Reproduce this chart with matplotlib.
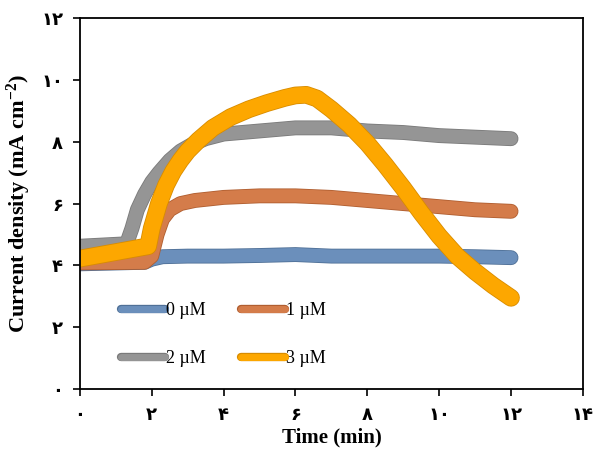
import matplotlib.pyplot as plt
import matplotlib.patheffects as pe
from matplotlib.lines import Line2D

# Data
time0 = [0, 1.8, 2.0, 2.3, 3, 4, 5, 6, 7, 8, 9, 10, 11, 12]
cd0 = [4.05, 4.1, 4.2, 4.28, 4.3, 4.3, 4.32, 4.35, 4.3, 4.3, 4.3, 4.3, 4.28, 4.25]

time1 = [0, 1.8, 2.0, 2.15, 2.3, 2.5, 2.8, 3.2, 4, 5, 6, 7, 8, 9, 10, 11, 12]
cd1 = [4.08, 4.1, 4.3, 5.0, 5.5, 5.8, 6.0, 6.1, 6.2, 6.25, 6.25, 6.2, 6.1,
       6.0, 5.9, 5.8, 5.75]

time2 = [0, 1.3, 1.45, 1.6, 1.8, 2.0, 2.2, 2.5, 2.8, 3.1, 3.5, 4, 4.5, 5, 6,
         7, 8, 9, 10, 11, 12]
cd2 = [4.62, 4.7, 5.2, 5.8, 6.3, 6.7, 7.0, 7.4, 7.7, 7.9, 8.1, 8.25, 8.3,
       8.35, 8.45, 8.45, 8.35, 8.3, 8.2, 8.15, 8.1]

time3 = [0, 1.9, 2.0, 2.2, 2.4, 2.6, 2.8, 3.0, 3.3, 3.7, 4.2, 4.7, 5.2, 5.7,
         6.0, 6.3, 6.6, 7.0, 7.5, 8, 8.5, 9, 9.5, 10, 10.5, 11, 11.5, 12]
cd3 = [4.22, 4.62, 5.2, 6.0, 6.6, 7.05, 7.4, 7.7, 8.05, 8.45, 8.8, 9.05, 9.25,
       9.42, 9.5, 9.52, 9.4, 9.05, 8.55, 7.95, 7.25, 6.5, 5.7, 4.95, 4.3, 3.8,
       3.35, 2.95]

labels = ['0 µM', '1 µM', '2 µM', '3 µM']
colors = ['#6b8fbb', '#d47c4a', '#959595', '#fda700']
edges = ['#4f7097', '#b05e30', '#7a7a7a', '#d88c00']
widths = [9.5, 9.5, 9.5, 11.5]

xticks = [0, 2, 4, 6, 8, 10, 12, 14]
yticks = [0, 2, 4, 6, 8, 10, 12]
persian = '۰۱۲۳۴۵۶۷۸۹'


def to_persian(n):
    return ''.join(persian[int(c)] for c in str(n))


plt.rcParams['mathtext.fontset'] = 'custom'
plt.rcParams['mathtext.rm'] = 'Liberation Serif:bold'
plt.rcParams['mathtext.default'] = 'rm'

fig = plt.figure(figsize=(5.96, 4.5), dpi=100)
ax = fig.add_axes([0.134, 0.1356, 0.844, 0.824])

series = [(time0, cd0), (time1, cd1), (time2, cd2), (time3, cd3)]
for (t, c), col, ec, lw in zip(series, colors, edges, widths):
    ax.plot(t, c, color=col, lw=lw, solid_capstyle='round',
            solid_joinstyle='round',
            path_effects=[pe.Stroke(linewidth=lw + 1.2, foreground=ec),
                          pe.Normal()])

ax.set_xlim(0, 14)
ax.set_ylim(0, 12)
ax.set_xticks(xticks)
ax.set_yticks(yticks)
ax.set_xticklabels([to_persian(v) for v in xticks], fontfamily='DejaVu Sans',
                   fontweight='bold', fontsize=13)
ax.set_yticklabels([to_persian(v) for v in yticks], fontfamily='DejaVu Sans',
                   fontweight='bold', fontsize=13)
ax.tick_params(direction='out', length=5, width=1.2, pad=7)
for s in ax.spines.values():
    s.set_linewidth(1.3)

ax.set_xlabel('Time (min)', fontfamily='Liberation Serif', fontweight='bold',
              fontsize=15, labelpad=3)
ax.set_ylabel('Current density (mA cm$^{-2}$)', fontfamily='Liberation Serif',
              fontweight='bold', fontsize=16, labelpad=6)

handles = [Line2D([], [], color=col, lw=5, solid_capstyle='round',
                  path_effects=[pe.Stroke(linewidth=6, foreground=ec),
                                pe.Normal()])
           for col, ec in zip(colors, edges)]
# legend fills row by row in the reference: 0,1 / 2,3
order = [0, 2, 1, 3]
ax.legend([handles[i] for i in order], [labels[i] for i in order], ncol=2,
          loc='lower left', bbox_to_anchor=(0.05, 0.015), frameon=False,
          prop={'family': 'Liberation Serif', 'size': 13},
          handlelength=2.4, handletextpad=0.05, columnspacing=2.0,
          labelspacing=1.7)

fig.savefig('out.png', dpi=100)
